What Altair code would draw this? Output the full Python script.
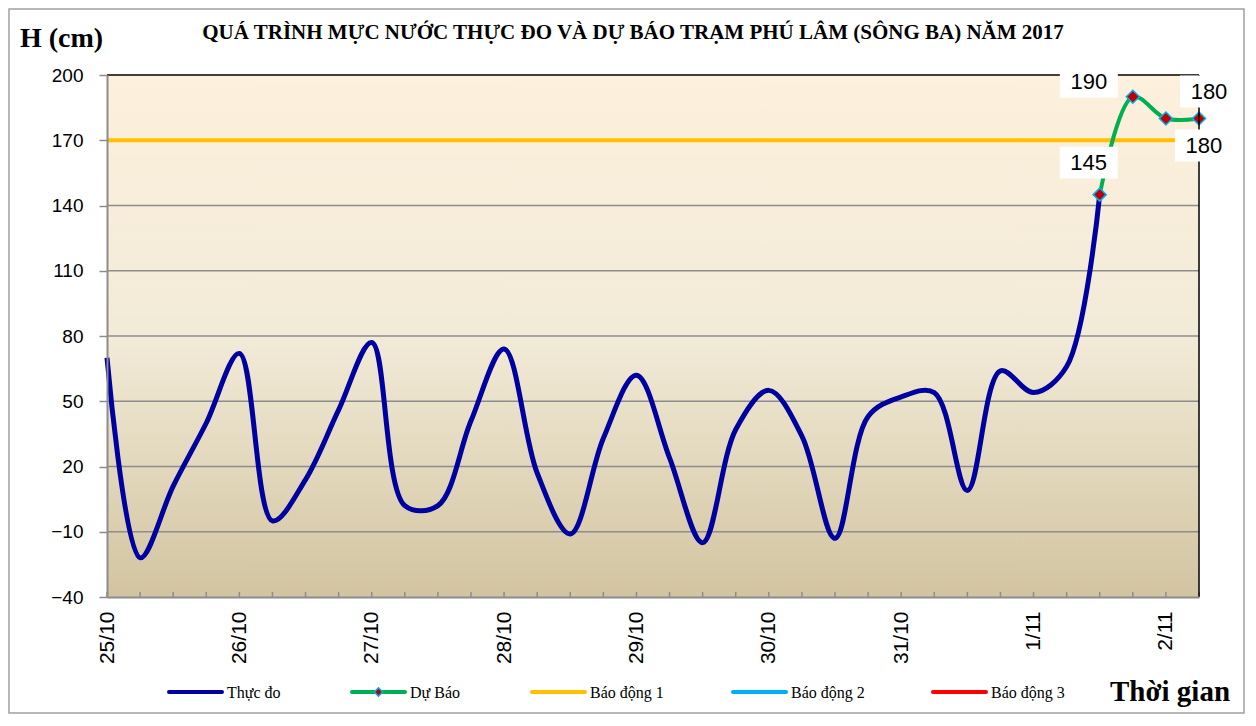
import json
import altair as alt
import pandas as pd

# ---------------- data ----------------
title_text = "QUÁ TRÌNH MỰC NƯỚC THỰC ĐO VÀ DỰ BÁO TRẠM  PHÚ LÂM (SÔNG BA) NĂM 2017"
y_title = "H (cm)"
x_title = "Thời gian"
day_labels = ["25/10", "26/10", "27/10", "28/10", "29/10", "30/10", "31/10", "1/11", "2/11"]
# 6-hourly observed water level (cm), from 25/10 00h to 1/11 12h
observed = [70, -22, 11, 40, 72, -5, 14, 46, 77, 2, 2, 41, 74, 17, -11, 33,
            62, 24, -15, 37, 55, 34, -13, 43, 52, 54, 9, 64, 54, 66, 145]
# 6-hourly forecast, from 1/11 12h to 2/11 06h
forecast = [145, 190, 180, 180]
alarm_levels = [170]
y_ticks = [-40, -10, 20, 50, 80, 110, 140, 170, 200]
legend_names = ["Thực đo", "Dự Báo", "Báo động 1", "Báo động 2", "Báo động 3"]
series_colors = ["#0000A0", "#00B050", "#FFC000", "#00B0F0", "#FF0000"]
marker_fill = "#C00000"
marker_stroke = "#00B0F0"

# ---------------- layout ----------------
W, H = 1092, 522
STEP = 6
X_MAX = (len(observed) - 1 + len(forecast) - 1) * STEP
GRID = "#8C8C8C"

obs_df = pd.DataFrame({"hour": [i * STEP for i in range(len(observed))], "value": observed})
fc_start = (len(observed) - 1) * STEP
fc_df = pd.DataFrame({
    "hour": [fc_start + i * STEP for i in range(len(forecast))],
    "value": forecast,
    "label": [str(v) for v in forecast],
})
grid_df = pd.DataFrame({"value": y_ticks[1:-1]})
alarm_df = pd.DataFrame({"value": alarm_levels})
tick_df = pd.DataFrame({"hour": list(range(0, X_MAX + 1, STEP))})
one = pd.DataFrame({"k": [0]})

x_scale = alt.Scale(domain=[0, X_MAX], nice=False, zero=False)
y_scale = alt.Scale(domain=[y_ticks[0], y_ticks[-1]], nice=False, zero=False)

X = alt.X(
    "hour:Q", scale=x_scale,
    axis=alt.Axis(
        values=[24 * i for i in range(len(day_labels))],
        labelExpr=f"{json.dumps(day_labels)}[round(datum.value / 24)]",
        title=None, grid=False, ticks=False, labelAngle=270, labelAlign="right",
        labelBaseline="middle", labelPadding=14, labelFontSize=21,
        labelFont="Liberation Sans", labelColor="black", labelFlush=False,
        domainColor=GRID, domainWidth=2, zindex=1, labelOverlap=False,
    ),
)
Y = alt.Y(
    "value:Q", scale=y_scale,
    axis=alt.Axis(
        values=y_ticks, title=None, grid=False, tickColor=GRID, tickSize=8,
        tickWidth=1.5, labelPadding=16, labelFontSize=19, labelFont="Liberation Sans",
        labelColor="black", domainColor=GRID, domainWidth=2, zindex=1,
    ),
)

background = alt.Chart(one).mark_rect(
    fill=alt.LinearGradient(
        gradient="linear", x1=0, x2=0, y1=0, y2=1,
        stops=[
            alt.GradientStop(color="#FDF0DC", offset=0),
            alt.GradientStop(color="#F2EBD8", offset=0.5),
            alt.GradientStop(color="#D2C4A0", offset=1),
        ],
    )
).encode(x=alt.value(0), x2=alt.value(W), y=alt.value(0), y2=alt.value(H))

grid = alt.Chart(grid_df).mark_rule(color=GRID, strokeWidth=1.5).encode(y=Y)

inner_ticks = alt.Chart(tick_df).mark_rule(color=GRID, strokeWidth=1.5).encode(
    x=X, y=alt.value(H), y2=alt.value(H - 5)
)

top_border = alt.Chart(one).mark_rule(color="black", strokeWidth=1.5).encode(
    x=alt.value(0), x2=alt.value(W), y=alt.value(0)
)
right_border = alt.Chart(one).mark_rule(color="black", strokeWidth=1.5).encode(
    x=alt.value(W), y=alt.value(0), y2=alt.value(H)
)

alarm = alt.Chart(alarm_df).mark_rule(color=series_colors[2], strokeWidth=4).encode(y=Y)

obs_line = alt.Chart(obs_df).mark_line(
    color=series_colors[0], strokeWidth=5, interpolate="catmull-rom"
).encode(x=X, y=Y)

fc_line = alt.Chart(fc_df).mark_line(
    color=series_colors[1], strokeWidth=4, interpolate="catmull-rom"
).encode(x=X, y=Y)

fc_points = alt.Chart(fc_df).mark_point(
    shape="diamond", filled=True, fill=marker_fill, stroke=marker_stroke,
    strokeWidth=1.5, size=170, opacity=1,
).encode(x=X, y=Y)

label_offsets = [(-11, -32), (-44, -15), (38, 27), (10, -27)]
label_layers = []
for h, (dx, dy) in zip(fc_df["hour"], label_offsets):
    base = alt.Chart(fc_df).transform_filter(alt.datum.hour == int(h))
    label_layers.append(
        base.mark_point(
            shape="M-1,-0.55L1,-0.55L1,0.55L-1,0.55Z", filled=True, fill="white",
            opacity=1, size=3364, xOffset=dx, yOffset=dy,
        ).encode(x=X, y=Y)
    )
    label_layers.append(
        base.mark_text(
            font="Liberation Sans", fontSize=22, color="black", dx=dx, dy=dy,
            align="center", baseline="middle",
        ).encode(x=X, y=Y, text="label:N")
    )

# ---------------- texts ----------------
title = alt.Chart(one).mark_text(
    text=title_text, font="Liberation Serif", fontSize=21, fontWeight="bold",
    align="center", baseline="alphabetic", color="black",
).encode(x=alt.value(526), y=alt.value(-36))

ytitle = alt.Chart(one).mark_text(
    text=y_title, font="Liberation Serif", fontSize=28, fontWeight="bold",
    align="left", baseline="alphabetic", color="black",
).encode(x=alt.value(-87), y=alt.value(-28))

xtitle = alt.Chart(one).mark_text(
    text=x_title, font="Liberation Serif", fontSize=29, fontWeight="bold",
    align="left", baseline="alphabetic", color="black",
).encode(x=alt.value(1003), y=alt.value(626))

# ---------------- legend ----------------
leg_y = 617
leg_x0 = [62, 245, 425, 626, 826]
leg_len = 53
legend_layers = []
for name, col, x0 in zip(legend_names, series_colors, leg_x0):
    legend_layers.append(
        alt.Chart(one).mark_rule(color=col, strokeWidth=4, strokeCap="round").encode(
            x=alt.value(x0), x2=alt.value(x0 + leg_len), y=alt.value(leg_y)
        )
    )
    legend_layers.append(
        alt.Chart(one).mark_text(
            text=name, font="Liberation Serif", fontSize=16, color="black",
            align="left", baseline="middle",
        ).encode(x=alt.value(x0 + leg_len + 5), y=alt.value(leg_y + 1))
    )
legend_layers.append(
    alt.Chart(one).mark_point(
        shape="diamond", filled=True, fill=marker_fill, stroke=marker_stroke,
        strokeWidth=1.5, size=70, opacity=1,
    ).encode(x=alt.value(leg_x0[1] + leg_len / 2), y=alt.value(leg_y))
)

frame = alt.Chart(one).mark_rect(
    fillOpacity=0, stroke="#A0A0A0", strokeWidth=1.5
).encode(x=alt.value(-98), x2=alt.value(1137), y=alt.value(-66), y2=alt.value(638))

chart = alt.layer(
    background, grid, inner_ticks, alarm, obs_line, fc_line, fc_points,
    top_border, right_border, *label_layers, title, ytitle, xtitle,
    *legend_layers, frame,
).properties(
    width=W, height=H,
    autosize=alt.AutoSizeParams(type="none"),
    padding={"left": 99, "top": 67, "right": 49, "bottom": 118},
).configure_view(stroke="transparent")

chart.save("out.html", embed_options={"renderer": "svg", "actions": False})
